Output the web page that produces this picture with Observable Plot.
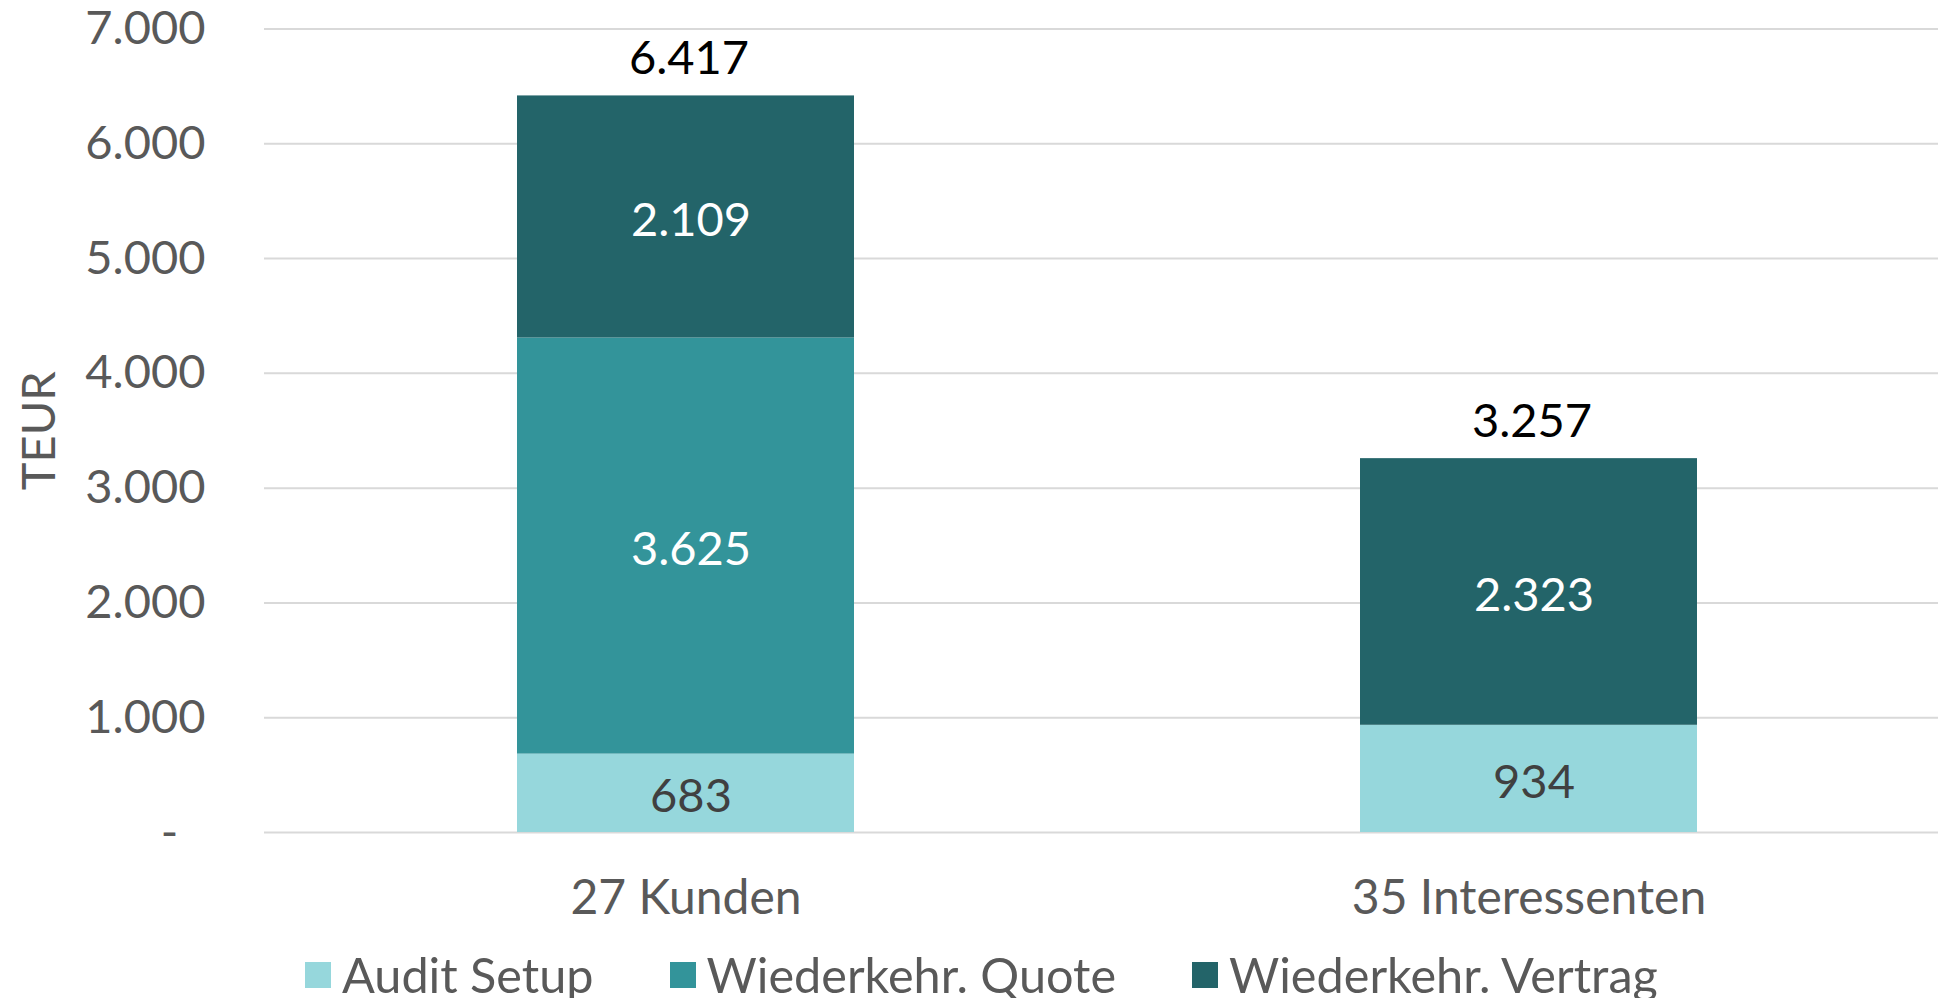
<!DOCTYPE html>
<html>
<head>
<meta charset="utf-8">
<script src="https://cdn.jsdelivr.net/npm/d3@7"></script>
<script src="https://cdn.jsdelivr.net/npm/@observablehq/plot@0.6"></script>
<style>
  html, body { margin: 0; padding: 0; background: #fff; overflow: hidden; }
  #chart { width: 1938px; }
  #legend { display: flex; align-items: center; margin-top: 11px; padding-left: 305px;
            font-family: Lato, sans-serif; font-size: 48.6px; line-height: 47px; color: #595959; }
  .item { display: flex; align-items: center; margin-right: 76px; white-space: nowrap; }
  .sw { width: 26px; height: 26px; margin-right: 11px; flex: none; }
</style>
</head>
<body>
<div id="chart"></div>
<div id="legend"></div>
<script>
const categories = ["27 Kunden", "35 Interessenten"];
const series = ["Audit Setup", "Wiederkehr. Quote", "Wiederkehr. Vertrag"];
const auditSetup = [683, 934];
const wiederkehrQuote = [3625, 0];
const wiederkehrVertrag = [2109, 2323];
const yTicks = [0, 1000, 2000, 3000, 4000, 5000, 6000, 7000];
const colors = ["#96D7DC", "#33949A", "#236469"];
const labelColors = ["#404040", "#ffffff", "#ffffff"];

const seriesValues = [auditSetup, wiederkehrQuote, wiederkehrVertrag];
const rows = [];
categories.forEach((c, i) => {
  series.forEach((s, j) => {
    rows.push({category: c, series: s, value: seriesValues[j][i]});
  });
});

const fmt0 = d3.formatLocale({decimal: ",", thousands: ".", grouping: [3], currency: ["", " €"]}).format(",");
const fmt = d => d === 0 ? "-\u2007" : fmt0(d);

const segText = (j) => Plot.text(rows, Plot.stackY({
  x: "category", y: "value", z: "series",
  text: d => (d.series === series[j] && d.value > 0) ? fmt0(d.value) : null,
  fill: labelColors[j], fontSize: 47, dy: 4, dx: 5
}));

const chart = Plot.plot({
  width: 1938,
  height: 940,
  marginLeft: 264,
  marginRight: 0,
  marginTop: 28.5,
  marginBottom: 108,
  style: {fontFamily: "Lato, sans-serif", fontSize: "47px", color: "#595959", background: "white"},
  x: {domain: categories, range: [264, 1951], paddingInner: 0.6, paddingOuter: 0.3, label: null},
  y: {domain: [0, 7000], label: null},
  color: {domain: series, range: colors},
  marks: [
    Plot.ruleY(yTicks, {stroke: "#D9D9D9", strokeWidth: 2}),
    Plot.barY(rows, Plot.stackY({x: "category", y: "value", fill: "series", z: "series"})),
    segText(0), segText(1), segText(2),
    Plot.text(rows, Plot.groupX({y: "sum", text: v => fmt0(d3.sum(v))}, {
      x: "category", y: "value", text: "value",
      fill: "#000000", fontSize: 47, dy: -37, dx: 3
    })),
    Plot.axisY({ticks: yTicks, tickSize: 0, tickPadding: 59, tickFormat: fmt, fontSize: 47,
      label: "TEUR", labelAnchor: "center", labelOffset: 243, labelArrow: "none"}),
    Plot.axisX({tickSize: 0, tickPadding: 47, fontSize: 48, label: null})
  ]
});
document.getElementById("chart").appendChild(chart);

const legend = document.getElementById("legend");
series.forEach((s, j) => {
  const it = document.createElement("div");
  it.className = "item";
  const sw = document.createElement("span");
  sw.className = "sw";
  sw.style.background = colors[j];
  const tx = document.createElement("span");
  tx.textContent = s;
  it.appendChild(sw); it.appendChild(tx);
  legend.appendChild(it);
});
</script>
</body>
</html>
